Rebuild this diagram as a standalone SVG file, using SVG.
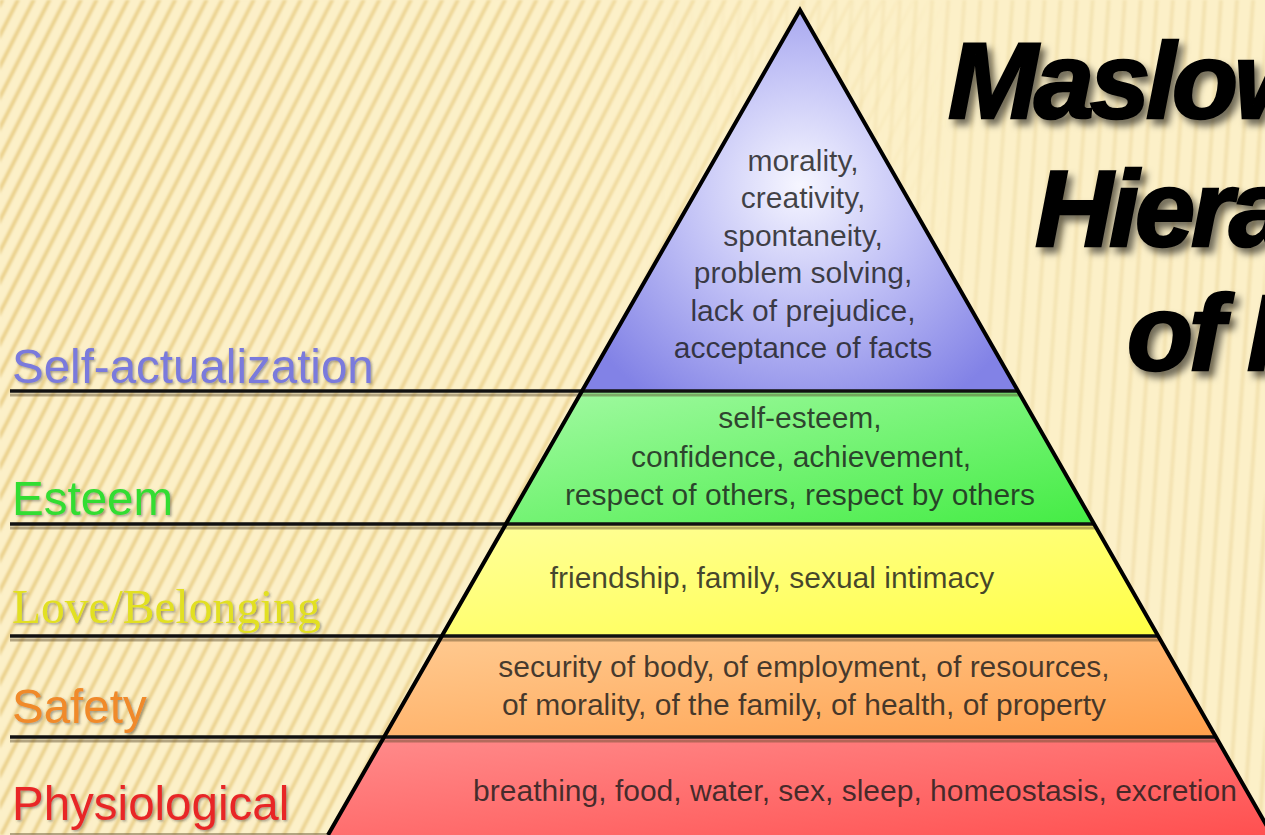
<svg xmlns="http://www.w3.org/2000/svg" width="1265" height="835" viewBox="0 0 1265 835">
  <defs>
    <style>
      .lbl { font-family: "Liberation Sans", Arial, sans-serif; font-size: 47.5px; }
      .lbls { font-family: "Liberation Serif", "Times New Roman", serif; font-size: 47.5px; }
      .txt { font-family: "Liberation Sans", Arial, sans-serif; font-size: 30px; fill: #1c1c1c; fill-opacity: 0.82; text-anchor: middle; }
      .title { font-family: "Liberation Sans", Arial, sans-serif; font-size: 108px; font-weight: bold; font-style: italic; fill: #000; stroke: #000; stroke-width: 2.5px; letter-spacing: -4px; }
      .sep { stroke: #111; stroke-width: 3.5; fill: none; }
      .sepsh { stroke: #5a4a2a; stroke-opacity: 0.45; stroke-width: 3; fill: none; }
    </style>
    <pattern id="stripesL" width="14" height="14" patternUnits="userSpaceOnUse" patternTransform="rotate(27)">
      <rect x="0" y="0" width="14" height="14" fill="#FCF0C8"/>
      <rect x="0" y="0" width="4" height="14" fill="#EBD28E"/>
    </pattern>
    <pattern id="stripesV" width="16" height="16" patternUnits="userSpaceOnUse" patternTransform="rotate(4)">
      <rect x="0" y="0" width="4" height="16" fill="#EFDCA6"/>
    </pattern>
    <linearGradient id="fadeL" x1="0" y1="0" x2="1" y2="0">
      <stop offset="0" stop-color="#fff" stop-opacity="1"/>
      <stop offset="0.45" stop-color="#fff" stop-opacity="0.8"/>
      <stop offset="0.75" stop-color="#fff" stop-opacity="0"/>
    </linearGradient>
    <linearGradient id="fadeR" x1="0" y1="0" x2="1" y2="0">
      <stop offset="0.5" stop-color="#fff" stop-opacity="0"/>
      <stop offset="0.8" stop-color="#fff" stop-opacity="0.55"/>
      <stop offset="1" stop-color="#fff" stop-opacity="0.7"/>
    </linearGradient>
    <mask id="maskL"><rect width="1265" height="835" fill="url(#fadeL)"/></mask>
    <mask id="maskR"><rect width="1265" height="835" fill="url(#fadeR)"/></mask>
    <filter id="soft" x="-5%" y="-5%" width="110%" height="110%">
      <feGaussianBlur stdDeviation="1.2"/>
    </filter>
    <filter id="tshadow" x="-10%" y="-20%" width="130%" height="150%">
      <feDropShadow dx="5" dy="6" stdDeviation="3.5" flood-color="#000" flood-opacity="0.55"/>
    </filter>
    <filter id="lshadow" x="-5%" y="-20%" width="110%" height="150%">
      <feDropShadow dx="1.5" dy="1.5" stdDeviation="1.2" flood-color="#3a3a3a" flood-opacity="0.45"/>
    </filter>
    <radialGradient id="gBlue" cx="800" cy="185" r="260" gradientUnits="userSpaceOnUse">
      <stop offset="0" stop-color="#F6F6FF"/>
      <stop offset="0.45" stop-color="#C2C2F6"/>
      <stop offset="1" stop-color="#8282E6"/>
    </radialGradient>
    <linearGradient id="gGreen" x1="0" y1="0" x2="1" y2="1">
      <stop offset="0" stop-color="#A4FAA4"/>
      <stop offset="1" stop-color="#44EC44"/>
    </linearGradient>
    <linearGradient id="gYellow" x1="0" y1="0" x2="1" y2="1">
      <stop offset="0" stop-color="#FFFF9C"/>
      <stop offset="1" stop-color="#FFFF44"/>
    </linearGradient>
    <linearGradient id="gOrange" x1="0" y1="0" x2="1" y2="1">
      <stop offset="0" stop-color="#FFCB92"/>
      <stop offset="1" stop-color="#FFA04C"/>
    </linearGradient>
    <linearGradient id="gRed" x1="0" y1="0" x2="1" y2="1">
      <stop offset="0" stop-color="#FF8C8C"/>
      <stop offset="1" stop-color="#FF5050"/>
    </linearGradient>
  </defs>

  <g id="background">
    <rect width="1265" height="835" fill="#FCF0C8"/>
    <g filter="url(#soft)">
      <rect width="1265" height="835" fill="url(#stripesL)" mask="url(#maskL)"/>
      <rect width="1265" height="835" fill="url(#stripesV)" mask="url(#maskR)"/>
    </g>
  </g>

  <g id="title" filter="url(#tshadow)">
    <text class="title" x="948" y="118">Maslow's</text>
    <text class="title" x="1035" y="246">Hierarchy</text>
    <text class="title" x="1127" y="370">of Needs</text>
  </g>

  <g id="level-self-actualization">
    <polygon points="800,10 1018,391 582,391" fill="url(#gBlue)"/>
    <text class="txt" x="803" y="171">morality,</text>
    <text class="txt" x="803" y="208">creativity,</text>
    <text class="txt" x="803" y="246">spontaneity,</text>
    <text class="txt" x="803" y="283">problem solving,</text>
    <text class="txt" x="803" y="321">lack of prejudice,</text>
    <text class="txt" x="803" y="358">acceptance of facts</text>
    <text class="lbl" x="12" y="383" fill="#7A7ADC" filter="url(#lshadow)">Self-actualization</text>
  </g>

  <g id="level-esteem">
    <polygon points="582,391 1018,391 1094,524 506,524" fill="url(#gGreen)"/>
    <text class="txt" x="800" y="428">self-esteem,</text>
    <text class="txt" x="801" y="467">confidence, achievement,</text>
    <text class="txt" x="800" y="505">respect of others, respect by others</text>
    <text class="lbl" x="12" y="515" fill="#30DD30" filter="url(#lshadow)">Esteem</text>
  </g>

  <g id="level-love">
    <polygon points="506,524 1094,524 1158,636 442,636" fill="url(#gYellow)"/>
    <text class="txt" x="772" y="588">friendship, family, sexual intimacy</text>
    <text class="lbls" x="12" y="623" fill="#E2E020" filter="url(#lshadow)">Love/Belonging</text>
  </g>

  <g id="level-safety">
    <polygon points="442,636 1158,636 1216,737 384,737" fill="url(#gOrange)"/>
    <text class="txt" x="804" y="677">security of body, of employment, of resources,</text>
    <text class="txt" x="804" y="715">of morality, of the family, of health, of property</text>
    <text class="lbl" x="12" y="723" fill="#F08A2A" filter="url(#lshadow)">Safety</text>
  </g>

  <g id="level-physiological">
    <polygon points="384,737 1216,737 1272,835 328,835" fill="url(#gRed)"/>
    <text class="txt" x="855" y="801">breathing, food, water, sex, sleep, homeostasis, excretion</text>
    <text class="lbl" x="12" y="820" fill="#E82828" filter="url(#lshadow)">Physiological</text>
  </g>

  <g id="connectors">
    <line class="sepsh" x1="10" y1="395" x2="1020" y2="395"/>
    <line class="sepsh" x1="10" y1="528" x2="1096" y2="528"/>
    <line class="sepsh" x1="10" y1="640" x2="1160" y2="640"/>
    <line class="sepsh" x1="10" y1="741" x2="1218" y2="741"/>
    <line class="sep" x1="10" y1="391" x2="1018" y2="391"/>
    <line class="sep" x1="10" y1="524" x2="1094" y2="524"/>
    <line class="sep" x1="10" y1="636" x2="1158" y2="636"/>
    <line class="sep" x1="10" y1="737" x2="1216" y2="737"/>
    <line x1="10" y1="834" x2="330" y2="834" stroke="#6a5a3a" stroke-opacity="0.5" stroke-width="2"/>
    <polyline points="328,835 800,10 1272,835" fill="none" stroke="#000" stroke-width="4" stroke-linejoin="miter"/>
  </g>
</svg>
